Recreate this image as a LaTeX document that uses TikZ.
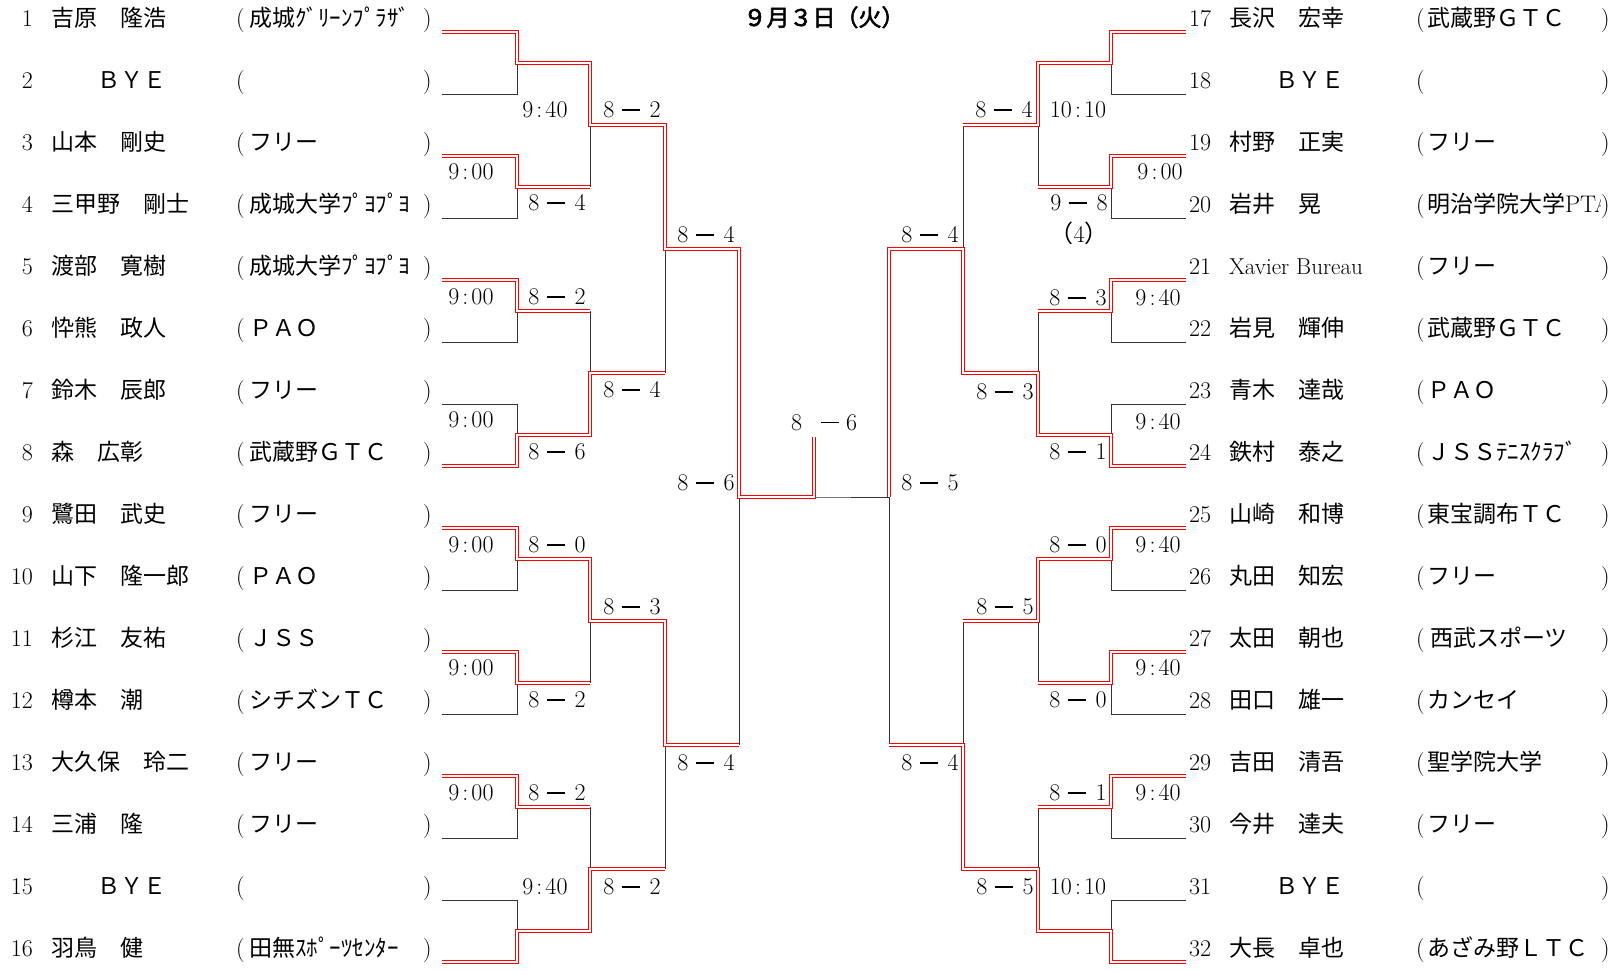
\documentclass[tikz,border=0pt]{standalone}
\usepackage{fontspec}
\newfontfamily\jp{Noto Sans CJK JP}
\newfontfamily\jpb[FakeBold=2.5]{Noto Sans CJK JP}
\newcommand\mydash{\rule[7.2pt]{18pt}{1.1pt}}
\newcommand\myscore[2]{#1\hspace{7pt}\mydash\hspace{10pt}#2}
\newcommand\mytime[2]{#1\hspace{3pt}:\hspace{3pt}#2}
\begin{document}
\begin{tikzpicture}[x=1pt,y=-1pt,
  every node/.style={inner sep=0pt, outer sep=0pt},
  lm/.style={font=\fontsize{24}{28}\selectfont},
  jpf/.style={font=\fontsize{23}{27}\selectfont\jp},
  ttl/.style={font=\fontsize{23}{27}\selectfont\jpb},
  br/.style={draw=black!80, line width=1pt},
  win/.style={draw=red, double=white, double distance=2.2pt, line width=1pt, line join=miter, line cap=butt},
]
\useasboundingbox (0,0) rectangle (1618,970);
\fill[white] (0,0) rectangle (1618,970);

% ---------- junction coordinates ----------
\foreach \i in {1,...,16}{
  \pgfmathsetmacro\yy{32+62*(\i-1)}
  \pgfmathtruncatemacro\j{\i+16}
  \coordinate (a\i) at (442,\yy);
  \coordinate (b\i) at (517,\yy);
  \coordinate (a\j) at (1186,\yy);
  \coordinate (b\j) at (1111,\yy);
}
\foreach \k in {1,...,8}{
  \pgfmathsetmacro\yy{63+124*(\k-1)}
  \pgfmathtruncatemacro\j{\k+8}
  \coordinate (c1-\k) at (517,\yy); \coordinate (d1-\k) at (590,\yy);
  \coordinate (c1-\j) at (1111,\yy); \coordinate (d1-\j) at (1038,\yy);
}
\foreach \k in {1,...,4}{
  \pgfmathsetmacro\yy{125+248*(\k-1)}
  \pgfmathtruncatemacro\j{\k+4}
  \coordinate (c2-\k) at (590,\yy); \coordinate (d2-\k) at (665,\yy);
  \coordinate (c2-\j) at (1038,\yy); \coordinate (d2-\j) at (963,\yy);
}
\foreach \k in {1,2}{
  \pgfmathsetmacro\yy{249+496*(\k-1)}
  \pgfmathtruncatemacro\j{\k+2}
  \coordinate (c3-\k) at (665,\yy); \coordinate (d3-\k) at (739,\yy);
  \coordinate (c3-\j) at (963,\yy); \coordinate (d3-\j) at (889,\yy);
}
\coordinate (c4-1) at (739,497);
\coordinate (c4-2) at (889,497);
\coordinate (fin) at (814,497);
\coordinate (top) at (814,437);

% ---------- black bracket ----------
\foreach \i in {1,3,...,31}{
  \pgfmathtruncatemacro\j{\i+1}
  \pgfmathtruncatemacro\k{(\i+1)/2}
  \draw[br] (a\i) -- (b\i) -- (b\j) -- (a\j);
  \draw[br] (c1-\k) -- (d1-\k);
}
\foreach \m in {1,...,8}{
  \pgfmathtruncatemacro\p{2*\m-1}\pgfmathtruncatemacro\q{2*\m}
  \draw[br] (d1-\p) -- (d1-\q);
  \draw[br] (c2-\m) -- (d2-\m);
}
\foreach \m in {1,...,4}{
  \pgfmathtruncatemacro\p{2*\m-1}\pgfmathtruncatemacro\q{2*\m}
  \draw[br] (d2-\p) -- (d2-\q);
  \draw[br] (c3-\m) -- (d3-\m);
}
\draw[br] (d3-1) -- (d3-2);
\draw[br] (d3-3) -- (d3-4);
\draw[br] (c4-1) -- (fin) -- (c4-2);

% ---------- winners (red double) ----------
\draw[win] (a1)--(b1)--(c1-1)--(d1-1)--(c2-1)--(d2-1)--(c3-1)--(d3-1)--(c4-1)--(fin)--(top);
\draw[win] (a3)--(b3)--(c1-2)--(d1-2);
\draw[win] (a5)--(b5)--(c1-3)--(d1-3);
\draw[win] (a8)--(b8)--(c1-4)--(d1-4)--(c2-2)--(d2-2);
\draw[win] (a9)--(b9)--(c1-5)--(d1-5)--(c2-3)--(d2-3)--(c3-2)--(d3-2);
\draw[win] (a11)--(b11)--(c1-6)--(d1-6);
\draw[win] (a13)--(b13)--(c1-7)--(d1-7);
\draw[win] (a16)--(b16)--(c1-8)--(d1-8)--(c2-4)--(d2-4);
\draw[win] (a17)--(b17)--(c1-9)--(d1-9)--(c2-5)--(d2-5);
\draw[win] (a19)--(b19)--(c1-10)--(d1-10);
\draw[win] (a21)--(b21)--(c1-11)--(d1-11);
\draw[win] (a24)--(b24)--(c1-12)--(d1-12)--(c2-6)--(d2-6)--(c3-3)--(d3-3)--(c4-2);
\draw[win] (a25)--(b25)--(c1-13)--(d1-13)--(c2-7)--(d2-7);
\draw[win] (a27)--(b27)--(c1-14)--(d1-14);
\draw[win] (a29)--(b29)--(c1-15)--(d1-15);
\draw[win] (a32)--(b32)--(c1-16)--(d1-16)--(c2-8)--(d2-8)--(c3-4)--(d3-4);

% ---------- title ----------
\node[ttl, anchor=base] (title) at (824,26) {９月３日（火）};

% ---------- left players ----------
\foreach \xn/\xnm/\xaf [count=\c] in {
 1/吉原　隆浩/成城ｸﾞﾘｰﾝﾌﾟﾗｻﾞ,
 2/　　ＢＹＥ/{},
 3/山本　剛史/フリー,
 4/三甲野　剛士/成城大学ﾌﾟﾖﾌﾟﾖ,
 5/渡部　寛樹/成城大学ﾌﾟﾖﾌﾟﾖ,
 6/忰熊　政人/ＰＡＯ,
 7/鈴木　辰郎/フリー,
 8/森　広彰/武蔵野ＧＴＣ,
 9/鷺田　武史/フリー,
 10/山下　隆一郎/ＰＡＯ,
 11/杉江　友祐/ＪＳＳ,
 12/樽本　潮/シチズンＴＣ,
 13/大久保　玲二/フリー,
 14/三浦　隆/フリー,
 15/　　ＢＹＥ/{},
 16/羽鳥　健/田無ｽﾎﾟｰﾂｾﾝﾀｰ}{
  \pgfmathsetmacro\yb{26+62*(\c-1)}
  \node[lm, anchor=base east] (num\xn) at (33,\yb) {\xn};
  \node[jpf, anchor=base west] (name\xn) at (51,\yb) {\xnm};
  \node[lm, anchor=base west] (lp\xn) at (236,\yb) {(};
  \node[jpf, anchor=base west] (aff\xn) at (249,\yb) {\xaf};
  \node[lm, anchor=base east] (rp\xn) at (431.5,\yb) {)};
}

% ---------- right players ----------
\foreach \xn/\xnm/\xaf [count=\c] in {
 17/長沢　宏幸/武蔵野ＧＴＣ,
 18/　　ＢＹＥ/{},
 19/村野　正実/フリー,
 20/岩井　晃/{},
 21/{\rmfamily Xavier Bureau}/フリー,
 22/岩見　輝伸/武蔵野ＧＴＣ,
 23/青木　達哉/ＰＡＯ,
 24/鉄村　泰之/ＪＳＳﾃﾆｽｸﾗﾌﾞ,
 25/山崎　和博/東宝調布ＴＣ,
 26/丸田　知宏/フリー,
 27/太田　朝也/\hspace{3pt}西武スポーツ,
 28/田口　雄一/カンセイ,
 29/吉田　清吾/聖学院大学,
 30/今井　達夫/フリー,
 31/　　ＢＹＥ/{},
 32/大長　卓也/あざみ野ＬＴＣ}{
  \pgfmathsetmacro\yb{26+62*(\c-1)}
  \node[lm, anchor=base west] (num\xn) at (1189,\yb) {\xn};
  \node[jpf, anchor=base west] (name\xn) at (1229,\yb) {\xnm};
  \node[lm, anchor=base west] (lp\xn) at (1416,\yb) {(};
  \ifnum\xn=20\relax\else
  \node[jpf, anchor=base west] (aff\xn) at (1427,\yb) {\xaf};
  \fi
  \node[lm, anchor=base east] (rp\xn) at (1609.5,\yb) {)};
}
\begin{scope}
  \clip (1420,180) rectangle (1600,225);
  \node[jpf, anchor=base west] (aff20) at (1427,212)
    {\makebox[172pt][l]{明治学院大学{\rmfamily\fontsize{24}{28}\selectfont PTA}}};
\end{scope}

% ---------- scores and times ----------
\foreach \lx/\ly/\lt [count=\c] in {
 545/110/{\mytime{9}{40}},
 632/110/{\myscore{8}{2}},
 471/172/{\mytime{9}{00}},
 557/203/{\myscore{8}{4}},
 706/235/{\myscore{8}{4}},
 471/297/{\mytime{9}{00}},
 557/297/{\myscore{8}{2}},
 632/390/{\myscore{8}{4}},
 471/420/{\mytime{9}{00}},
 557/452/{\myscore{8}{6}},
 706/483/{\myscore{8}{6}},
 471/545/{\mytime{9}{00}},
 557/545/{\myscore{8}{0}},
 632/607/{\myscore{8}{3}},
 471/668/{\mytime{9}{00}},
 557/700/{\myscore{8}{2}},
 706/763/{\myscore{8}{4}},
 471/793/{\mytime{9}{00}},
 557/793/{\myscore{8}{2}},
 545/887/{\mytime{9}{40}},
 632/887/{\myscore{8}{2}},
 1004/110/{\myscore{8}{4}},
 1078/110/{\mytime{10}{10}},
 1160/172/{\mytime{9}{00}},
 1079/203/{\myscore{9}{8}},
 1079/235/{{\jp （}4{\jp ）}},
 930/235/{\myscore{8}{4}},
 1078/298/{\myscore{8}{3}},
 1158/298/{\mytime{9}{40}},
 1005/392/{\myscore{8}{3}},
 1158/422/{\mytime{9}{40}},
 1078/452/{\myscore{8}{1}},
 930/483/{\myscore{8}{5}},
 1078/545/{\myscore{8}{0}},
 1158/545/{\mytime{9}{40}},
 1005/607/{\myscore{8}{5}},
 1158/668/{\mytime{9}{40}},
 1078/700/{\myscore{8}{0}},
 930/763/{\myscore{8}{4}},
 1078/793/{\myscore{8}{1}},
 1158/793/{\mytime{9}{40}},
 1005/887/{\myscore{8}{5}},
 1078/887/{\mytime{10}{10}}}{
  \node[lm, anchor=base] (lab\c) at (\lx,\ly+7.7) {\lt};
}
\node[lm, anchor=base west] (final) at (791,430) {8\hspace{19pt}\mydash\hspace{7pt}6};
\end{tikzpicture}
\end{document}
